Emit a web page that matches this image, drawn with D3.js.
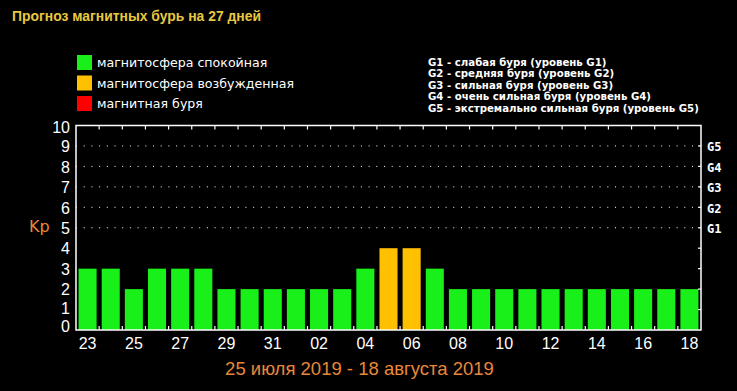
<!DOCTYPE html>
<html><head><meta charset="utf-8">
<script src="https://cdn.jsdelivr.net/npm/d3@7/dist/d3.min.js"></script>
<style>
html,body{margin:0;padding:0;background:#000;}
svg{display:block;}
</style></head>
<body><svg id="c" width="737" height="391"></svg>
<script>
// ---- data ----
const days = ["23","24","25","26","27","28","29","30","31","01","02","03","04","05","06","07","08","09","10","11","12","13","14","15","16","17","18"];
const kp   = [3,3,2,3,3,3,2,2,2,2,2,2,3,4,4,3,2,2,2,2,2,2,2,2,2,2,2];
const dayLabels = ["23","25","27","29","31","02","04","06","08","10","12","14","16","18"];
const yTicks = [0,1,2,3,4,5,6,7,8,9,10];
const gLevels = [5,6,7,8,9];
const gLabels = ["G1","G2","G3","G4","G5"];
const legendItems = ["магнитосфера спокойная","магнитосфера возбужденная","магнитная буря"];
const legendColors = ["#19f019","#ffc000","#ff0000"];
const gDescriptions = [
  "G1 - слабая буря (уровень G1)",
  "G2 - средняя буря (уровень G2)",
  "G3 - сильная буря (уровень G3)",
  "G4 - очень сильная буря (уровень G4)",
  "G5 - экстремально сильная буря (уровень G5)"
];
const title = "Прогноз магнитных бурь на 27 дней";
const subtitle = "25 июля 2019 - 18 августа 2019";

// ---- drawing ----
const svg = d3.select("#c");
const L = 76, R = 701, T = 125.5, B = 330;

const x = d3.scaleBand().domain(days).range([L, R]).paddingInner(0.22).paddingOuter(0.11);
const y = d3.scaleLinear().domain([0, 10]).range([B, T]);

function barColor(v){ return v >= 5 ? legendColors[2] : (v >= 4 ? legendColors[1] : legendColors[0]); }

// title
svg.append("text").attr("x", 12).attr("y", 21)
  .attr("font-family", "Liberation Sans, Arial, sans-serif").attr("font-weight", "bold")
  .attr("font-size", 13.9).attr("fill", "#e8c840").text(title);

// legend
legendItems.forEach((t, i) => {
  const yy = 55 + i * 20.5;
  svg.append("rect").attr("x", 77).attr("y", yy).attr("width", 15).attr("height", 15).attr("fill", legendColors[i]);
  svg.append("text").attr("x", 97).attr("y", yy + 12)
    .attr("font-family", "DejaVu Sans, sans-serif").attr("font-size", 12.6)
    .attr("fill", "#fff").text(t);
});

// G descriptions
gDescriptions.forEach((t, i) => {
  svg.append("text").attr("x", 428).attr("y", 65.5 + i * 11.6)
    .attr("font-family", "DejaVu Sans, sans-serif").attr("font-weight", "bold")
    .attr("font-size", 10.2).attr("fill", "#fff").text(t);
});

// gridlines
svg.append("g").selectAll("line").data(gLevels).join("line")
  .attr("x1", L).attr("x2", R).attr("y1", d => y(d)).attr("y2", d => y(d))
  .attr("stroke", "#fff").attr("stroke-width", 1).attr("stroke-dasharray", "1,6.7");

// bars
svg.append("g").selectAll("rect").data(days).join("rect")
  .attr("x", d => x(d)).attr("width", x.bandwidth())
  .attr("y", (d, i) => y(kp[i])).attr("height", (d, i) => y(0) - y(kp[i]))
  .attr("fill", (d, i) => barColor(kp[i]));

// frame
svg.append("rect").attr("x", L).attr("y", T).attr("width", R - L).attr("height", B - T)
  .attr("fill", "none").attr("stroke", "#fff").attr("stroke-width", 1.5);

// top/bottom ticks between bars
const step = x.step();
const boundaries = days.slice(0, -1).map(d => x(d) + x.bandwidth() + (step - x.bandwidth()) / 2);
const tg = svg.append("g").attr("stroke", "#fff").attr("stroke-width", 1.2);
boundaries.forEach(bx => {
  tg.append("line").attr("x1", bx).attr("x2", bx).attr("y1", T).attr("y2", T + 4);
  tg.append("line").attr("x1", bx).attr("x2", bx).attr("y1", B).attr("y2", B - 4);
});
// right side ticks
yTicks.slice(1, -1).forEach(v => {
  tg.append("line").attr("x1", R).attr("x2", R - 3).attr("y1", y(v)).attr("y2", y(v));
});

// left axis labels
const leftAxis = d3.axisLeft(y).tickValues(yTicks).tickSize(0).tickPadding(6).tickFormat(d3.format("d"));
const la = svg.append("g").attr("transform", `translate(${L},0)`).call(leftAxis);
la.select(".domain").remove();
la.selectAll("text").attr("font-family", "Liberation Sans, Arial, sans-serif")
  .attr("font-size", 16).attr("fill", "#fff")
  .attr("dy", d => d === 0 ? "0.08em" : (d === 1 ? "0.24em" : (d === 10 ? "0.45em" : "0.36em")));

// right G labels
const rightAxis = d3.axisRight(y).tickValues(gLevels).tickSize(0).tickPadding(6)
  .tickFormat(d => gLabels[gLevels.indexOf(d)]);
const ra = svg.append("g").attr("transform", `translate(${R},0)`).call(rightAxis);
ra.select(".domain").remove();
ra.selectAll("text").attr("font-family", "DejaVu Sans Mono, monospace").attr("font-weight", "bold")
  .attr("font-size", 12).attr("fill", "#fff").attr("dy", "0.42em");

// bottom day labels
const bottomAxis = d3.axisBottom(x).tickValues(dayLabels).tickSize(0).tickPadding(8);
const ba = svg.append("g").attr("transform", `translate(0,${B})`).call(bottomAxis);
ba.select(".domain").remove();
ba.selectAll("text").attr("font-family", "Liberation Sans Narrow, Arial Narrow, sans-serif")
  .attr("font-size", 16).attr("fill", "#fff");

// Kp label
svg.append("text").attr("x", 29).attr("y", 232)
  .attr("font-family", "DejaVu Sans, sans-serif").attr("font-size", 16)
  .attr("fill", "#e8883a").text("Kp");

// subtitle
svg.append("text").attr("x", 359.5).attr("y", 375).attr("text-anchor", "middle")
  .attr("font-family", "Liberation Sans Narrow, Arial Narrow, sans-serif")
  .attr("font-size", 18.5).attr("fill", "#e8883a").text(subtitle);
</script>
</body></html>
